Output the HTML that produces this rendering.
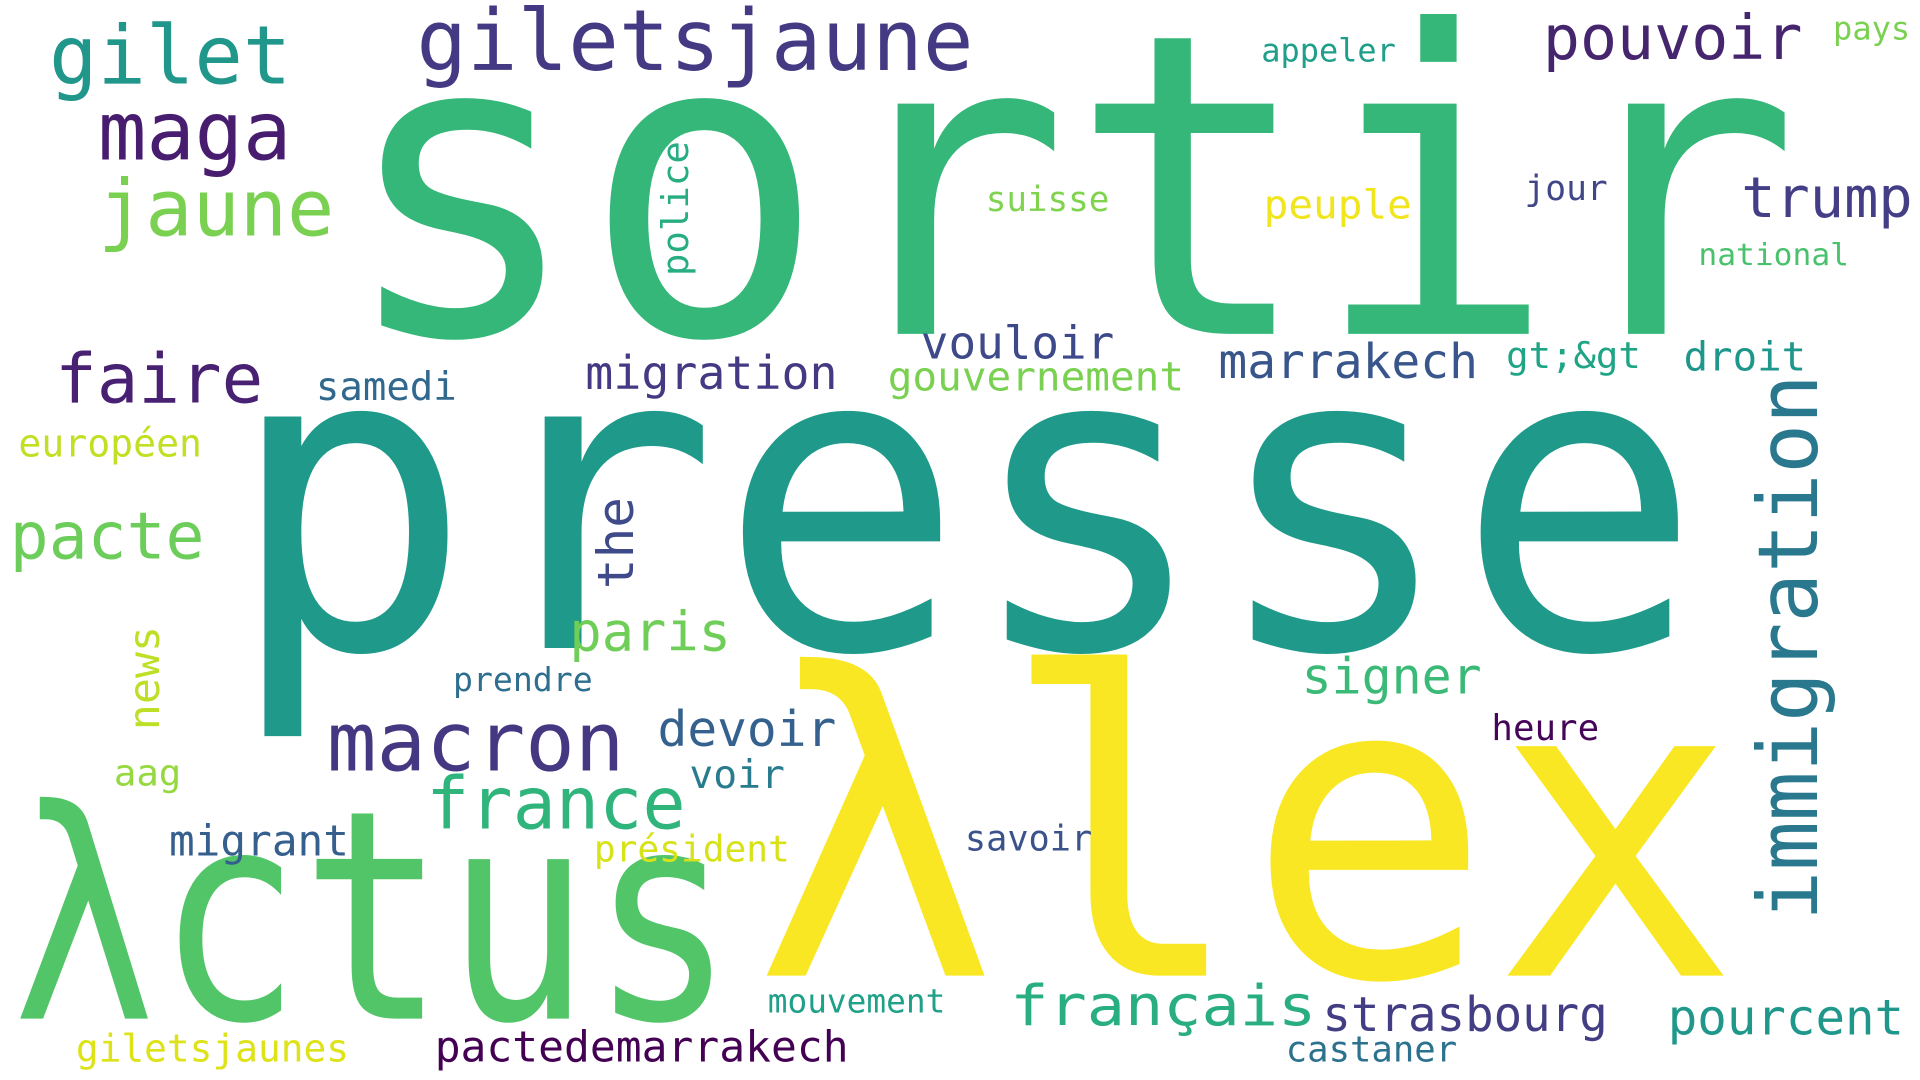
<!DOCTYPE html>
<html><head><meta charset="utf-8"><title>Word cloud</title>
<style>html,body{margin:0;padding:0;background:#fff;width:1920px;height:1080px;overflow:hidden}
svg text{font-family:"DejaVu Sans Mono","Liberation Mono",monospace;white-space:pre}</style></head>
<body>
<svg id="cloud" width="1920" height="1080" viewBox="0 0 1568 880" preserveAspectRatio="none" xmlns="http://www.w3.org/2000/svg">
<rect width="1568" height="880" fill="#fff"/>
</svg>
<script>
const words=["sortir","presse","λlex","λctus","immigration","giletsjaune","gilet","maga","jaune","faire","pouvoir","appeler","pays","trump","jour","suisse","peuple","national","police","vouloir","gouvernement","migration","samedi","marrakech","gt;&gt","droit","européen","pacte","the","paris","signer","news","prendre","macron","devoir","heure","aag","voir","france","migrant","président","savoir","mouvement","français","strasbourg","pourcent","giletsjaunes","pactedemarrakech","castaner"];
const sizes=[343,345,342,238,68,69,66,66,64,56,50,26,26,46,28,28,33,25,30,37,33,38,32,39,30,33,31,53,41,44,41,35,27,67,40,29,30,32,59,35,30,29,27,46,39,40,31,35,29];
const colors=["#35b779","#1f9a8a","#f9e723","#52c569","#2a788e","#443983","#21968a","#481c6e","#7ad151","#482173","#46256f","#1f9e89","#7ad151","#433e85","#404688","#7fd34e","#f1e51d","#4ac16d","#26ad81","#3e4989","#7ad151","#443a83","#31688e","#39568c","#20a486","#1f968b","#c2df23","#6ccd5a","#3e4a89","#6ece58","#3aba76","#bddf26","#2e6e8e","#453781","#34618d","#450559","#95d840","#297b8e","#2fb47c","#355f8d","#d8e219","#3b528b","#1fa088","#28ae80","#433d84","#1f988b","#dde318","#440154","#2c728e"];
// layout: [x, baseline, length, rotated]
const layout=[[277,272,1193,0],[185,528,1205,0],[615,795,805,0],[10,830,590,0],[1484,750,445,1],[340,57,455,0],[40,68,198,0],[80,130,158,0],[80,192,193,0],[45,328,170,0],[1260,48,212,0],[1030,50,110,0],[1497,32,63,0],[1422,177,140,0],[1245,163,68,0],[805,172,101,0],[1032,178,121,0],[1387,216,123,0],[562,225,110,1],[752,292,158,0],[725,318,242,0],[478,317,206,0],[258,326,115,0],[995,308,212,0],[1230,300,110,0],[1375,302,100,0],[15,372,150,0],[8,455,159,0],[517,480,75,1],[465,530,132,0],[1063,565,147,0],[130,595,85,1],[370,563,114,0],[267,628,243,0],[537,608,146,0],[1218,603,88,0],[93,640,55,0],[563,642,78,0],[348,675,212,0],[138,697,147,0],[485,702,160,0],[788,693,104,0],[627,825,145,0],[825,835,250,0],[1080,840,233,0],[1362,843,193,0],[62,865,223,0],[355,865,338,0],[1050,865,140,0]];
const svg=document.getElementById('cloud');
const NS='http://www.w3.org/2000/svg';
words.forEach((w,i)=>{
  const [x,y,len,rot]=layout[i];
  const t=document.createElementNS(NS,'text');
  
  
  t.setAttribute('font-size',sizes[i]);
  t.setAttribute('fill',colors[i]);
  t.setAttribute('textLength',len);
  t.setAttribute('lengthAdjust','spacingAndGlyphs');
  if(rot){t.setAttribute('x',0);t.setAttribute('y',0);t.setAttribute('transform','translate('+x+','+y+') rotate(-90)');}
  else{t.setAttribute('x',x);t.setAttribute('y',y);}
  t.textContent=w;
  svg.appendChild(t);
});
</script>
</body></html>
